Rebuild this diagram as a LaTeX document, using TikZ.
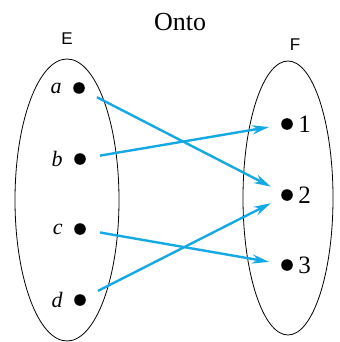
\documentclass[tikz,border=0pt]{standalone}
\usepackage{fontspec}
\setmainfont{Liberation Serif}
\newfontfamily\setsans{Liberation Sans}
\usetikzlibrary{positioning}
\usetikzlibrary{arrows.meta}
\definecolor{mapblue}{RGB}{20,168,228}

\begin{document}
\begin{tikzpicture}[x=0.5pt, y=-0.5pt, >=Stealth,
    elem/.style={circle, fill=black, inner sep=0pt, minimum size=5.8pt},
    maparrow/.style={mapblue, line width=1.2pt, -{Stealth[length=8.5pt, width=4.6pt]},
        shorten <=7pt, shorten >=6pt},
    every node/.append style={font=\fontsize{11}{13}\selectfont}]
        \useasboundingbox (0,0) rectangle (339,342);

        % the two sets
        \draw[thin] (67,200) ellipse [x radius=26pt, y radius=70.5pt];
        \draw[thin] (288,198) ellipse [x radius=22.5pt, y radius=68.5pt];
        \node (setE) at (67,39) {\setsans\fontsize{8.5}{10}\selectfont E};
        \node (setF) at (295,45) {\setsans\fontsize{8.5}{10}\selectfont F};
        \node (title) at (180,22) {\fontsize{13}{15}\selectfont Onto};

        % domain
        \node[elem] (a) at (79,88) {};
        \node[elem] (b) at (80,159) {};
        \node[elem] (c) at (80,229) {};
        \node[elem] (d) at (80,300) {};
        \foreach \p in {a,b,c,d}
            \node[left=2pt of \p] (l\p) {\textit{\p}};

        % codomain
        \node[elem] (one) at (287,124) {};
        \node[elem] (two) at (287,195) {};
        \node[elem] (three) at (287,265) {};
        \node[right=-1pt of one, font=\fontsize{12.5}{14}\selectfont] (lone) {1};
        \node[right=-1pt of two, font=\fontsize{12.5}{14}\selectfont] (ltwo) {2};
        \node[right=-1pt of three, font=\fontsize{12.5}{14}\selectfont] (lthree) {3};

        % the map
        \draw[maparrow] (a) -- (two);
        \draw[maparrow] (b) -- (one);
        \draw[maparrow] (c) -- (three);
        \draw[maparrow] (d) -- (two);
    \end{tikzpicture}
\end{document}
